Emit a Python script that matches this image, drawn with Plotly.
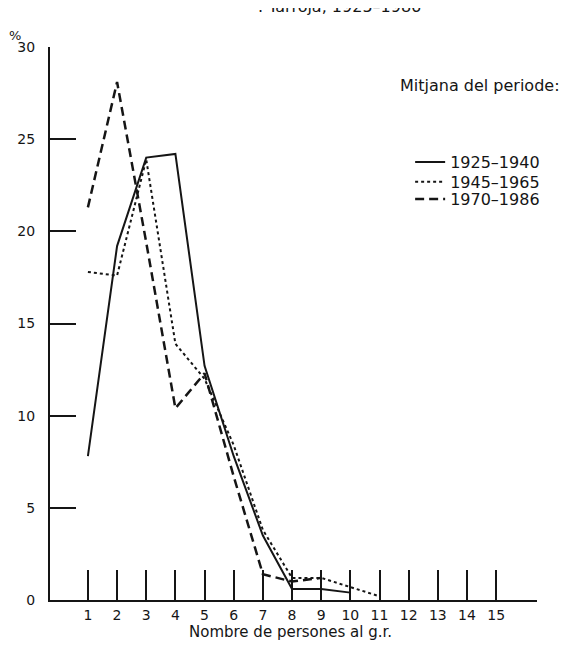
import plotly.graph_objects as go

# Data
sizes_1925 = [1, 2, 3, 4, 5, 6, 7, 8, 9, 10]
pct_1925 = [7.8, 19.2, 24.0, 24.2, 12.7, 7.8, 3.5, 0.6, 0.6, 0.4]

sizes_1945 = [1, 2, 3, 4, 5, 6, 7, 8, 9, 10, 11]
pct_1945 = [17.8, 17.6, 23.9, 13.9, 12.0, 8.4, 3.8, 1.2, 1.2, 0.7, 0.2]

sizes_1970 = [1, 2, 3, 4, 5, 6, 7, 8, 9]
pct_1970 = [21.3, 28.1, 19.4, 10.4, 12.3, 6.7, 1.4, 1.0, 1.2]

x_ticks = list(range(1, 16))
y_ticks = [0, 5, 10, 15, 20, 25, 30]

FONT = "DejaVu Sans"
INK = "#151515"

fig = go.Figure()
fig.add_trace(go.Scatter(x=sizes_1925, y=pct_1925, mode="lines", name="1925–1940",
                         legend="legend",
                         line=dict(color=INK, width=2, dash="solid")))
fig.add_trace(go.Scatter(x=sizes_1945, y=pct_1945, mode="lines", name="1945–1965",
                         legend="legend2",
                         line=dict(color=INK, width=2, dash="dot")))
fig.add_trace(go.Scatter(x=sizes_1970, y=pct_1970, mode="lines", name="1970–1986",
                         legend="legend3",
                         line=dict(color=INK, width=2.5, dash="9px,5px")))

def leg(y):
    return dict(x=0.7395, y=y, xanchor="left", yanchor="middle",
                bgcolor="rgba(0,0,0,0)", font=dict(size=16, family=FONT),
                itemwidth=30, borderwidth=0)

fig.update_layout(
    width=582, height=647,
    margin=dict(l=42, r=53, t=39, b=55, autoexpand=False),
    paper_bgcolor="white", plot_bgcolor="white",
    font=dict(family=FONT, size=14, color=INK),
    showlegend=True,
    legend=leg(0.792), legend2=leg(0.756), legend3=leg(0.725),
    xaxis=dict(range=[-0.3, 16.4], tickvals=x_ticks, ticktext=[str(v) for v in x_ticks],
               ticks="inside", ticklen=30, tickwidth=1.5, tickcolor=INK,
               showline=True, linecolor=INK, linewidth=2, showgrid=False, zeroline=False,
               ticklabelstandoff=1, automargin=False, tickfont=dict(size=14)),
    yaxis=dict(range=[0, 30], tickvals=y_ticks, ticks="inside", ticklen=26, tickwidth=1.5,
               tickcolor=INK, showline=True, linecolor=INK, linewidth=2, showgrid=False,
               zeroline=False, ticklabelstandoff=10, automargin=False, tickfont=dict(size=14)),
    annotations=[
        dict(text="%", xref="paper", yref="paper", x=-0.072, y=1.021, xanchor="center",
             yanchor="middle", showarrow=False, font=dict(size=13)),
        dict(text="Mitjana del periode:", xref="paper", yref="paper", x=0.715, y=0.9296,
             xanchor="left", yanchor="middle", showarrow=False, font=dict(size=16)),
        dict(text="Nombre de persones al g.r.", xref="paper", yref="paper", x=0.493, y=-0.058,
             xanchor="center", yanchor="middle", showarrow=False, font=dict(size=15)),
        dict(text=". Tarroja, 1925–1986", xref="paper", yref="paper", x=0.595, y=1.074,
             xanchor="center", yanchor="middle", showarrow=False, font=dict(size=16)),
    ],
)

fig.write_html("out.html")
